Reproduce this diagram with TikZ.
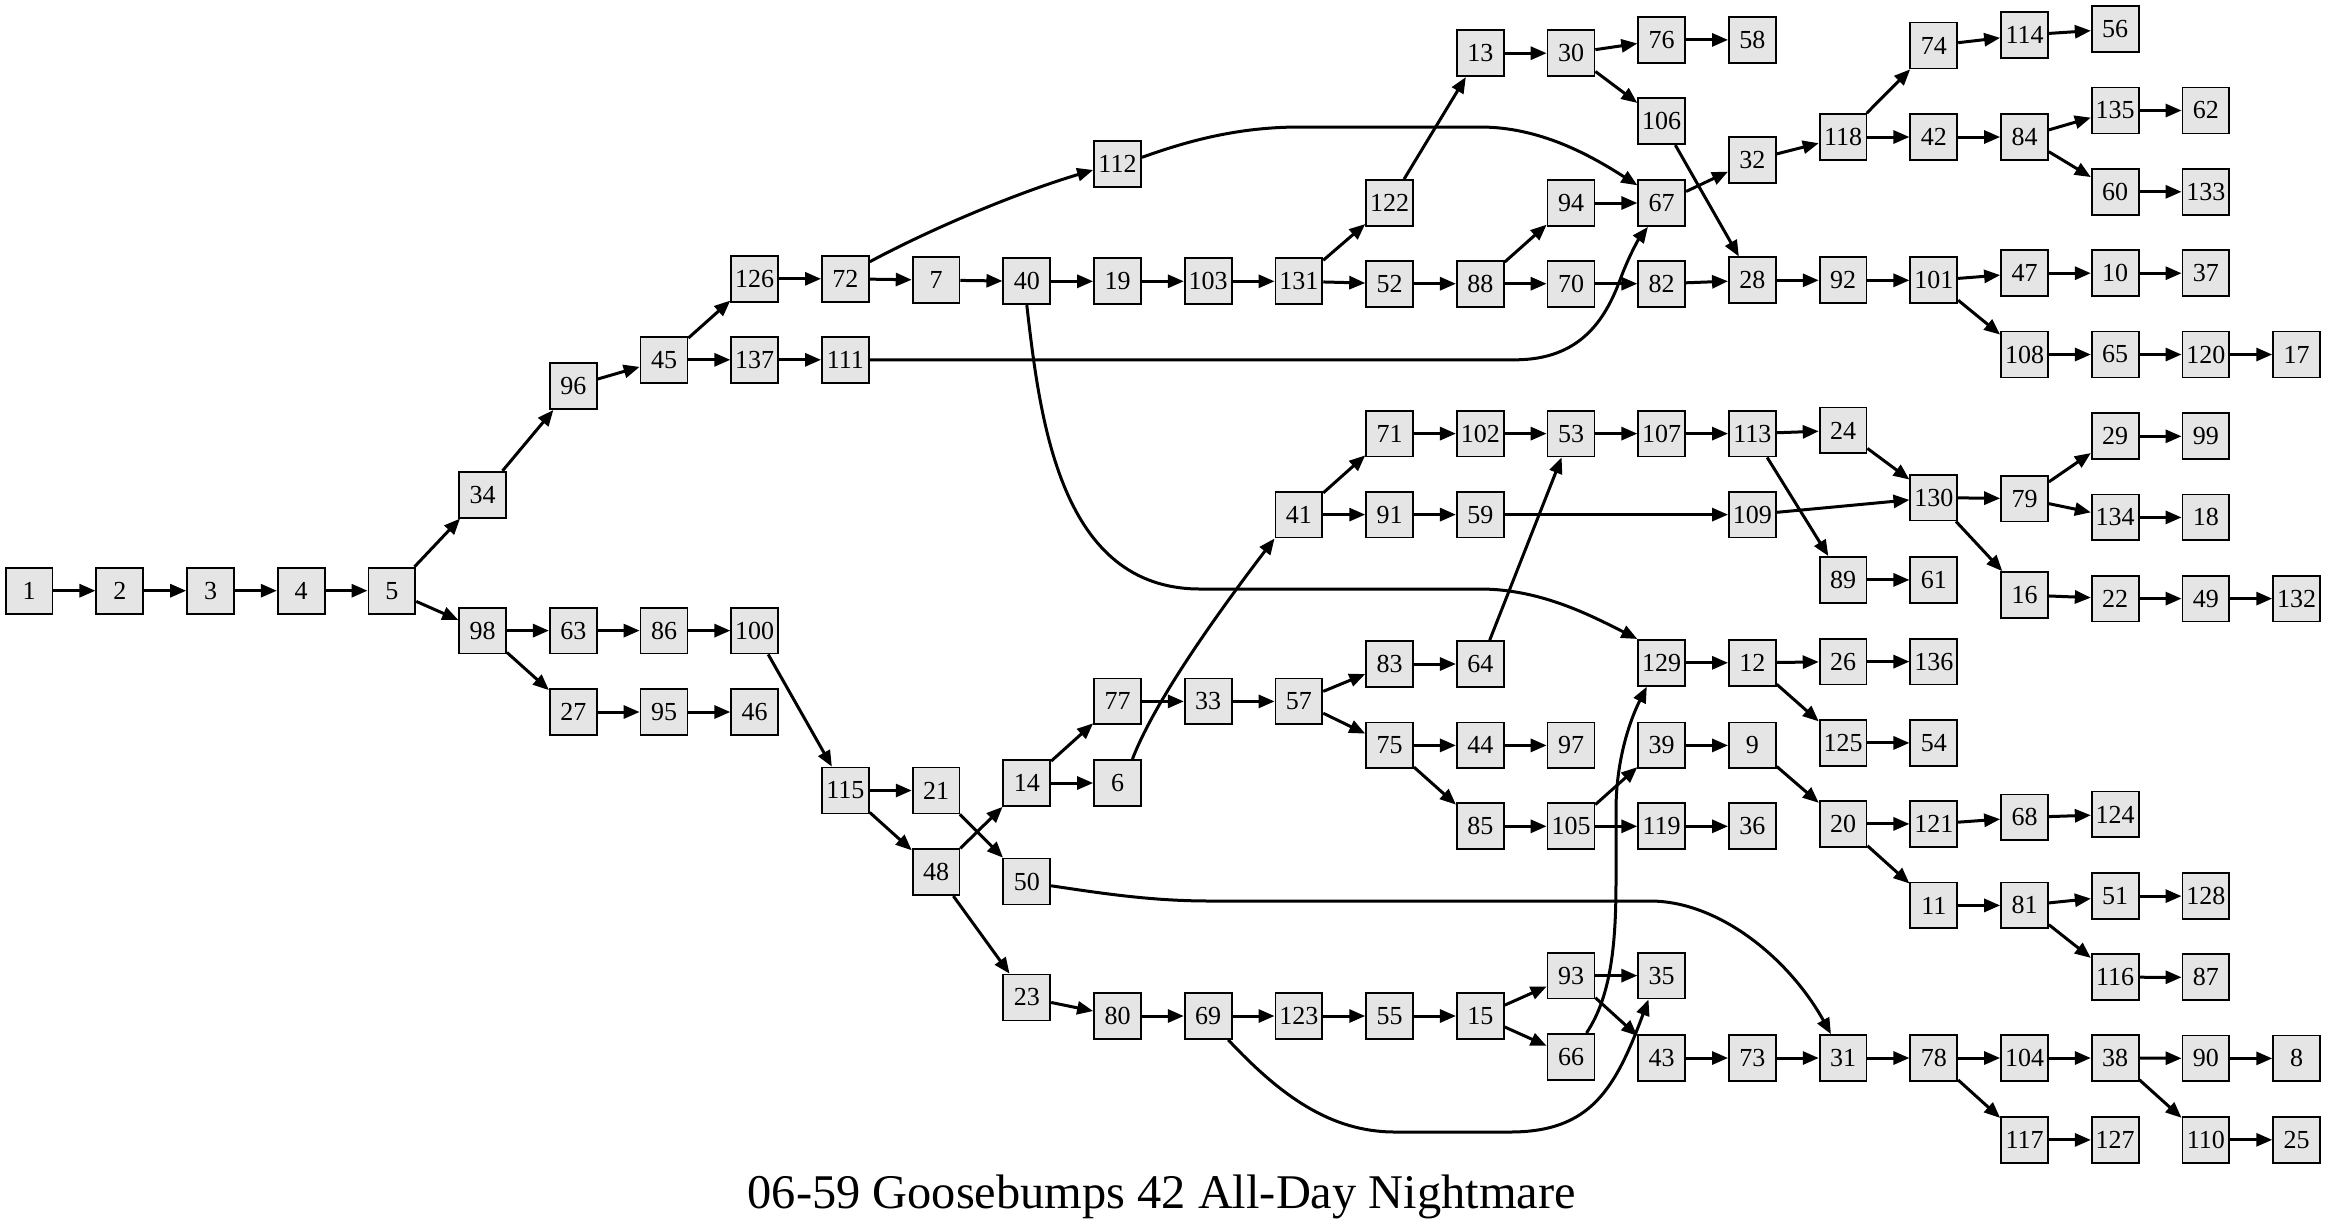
\documentclass[tikz,border=0pt]{standalone}
\usepackage{fontspec}
\setmainfont{Liberation Serif}
\usetikzlibrary{arrows.meta}
\definecolor{boxfill}{HTML}{E5E5E5}
\tikzset{
  box/.style={draw=black, line width=0.9pt, fill=boxfill, rectangle,
    minimum width=23.45pt, minimum height=22.95pt, inner sep=0pt,
    font=\fontsize{13}{15}\selectfont},
  edge/.style={line width=1.5pt, -{Triangle[length=8pt,width=6.5pt]}},
  titletext/.style={anchor=base, font=\fontsize{24.2}{29}\selectfont},
}
\newcommand{\gnode}[3]{\node[box] (n#1) at ({29.1+90.7*#2},#3) {#1};}
\begin{document}
\begin{tikzpicture}[x=0.5pt,y=-0.5pt]
\fill[white] (0,0) rectangle (2325,1228);
\useasboundingbox (0,0) rectangle (2325,1228);
\gnode{1}{0}{590.7}
\gnode{2}{1}{590.7}
\gnode{3}{2}{590.7}
\gnode{4}{3}{590.7}
\gnode{5}{4}{590.7}
\gnode{34}{5}{494.7}
\gnode{98}{5}{630.6}
\gnode{96}{6}{386.1}
\gnode{63}{6}{630.6}
\gnode{27}{6}{712}
\gnode{45}{7}{359.8}
\gnode{86}{7}{630.6}
\gnode{95}{7}{712}
\gnode{126}{8}{278.8}
\gnode{137}{8}{359.8}
\gnode{100}{8}{630.6}
\gnode{46}{8}{712}
\gnode{72}{9}{278.8}
\gnode{111}{9}{359.8}
\gnode{115}{9}{790.5}
\gnode{7}{10}{280.1}
\gnode{21}{10}{790.5}
\gnode{48}{10}{872.2}
\gnode{40}{11}{281.3}
\gnode{14}{11}{783}
\gnode{50}{11}{881.5}
\gnode{23}{11}{997.5}
\gnode{112}{12}{163.9}
\gnode{19}{12}{281.3}
\gnode{77}{12}{701.4}
\gnode{6}{12}{783}
\gnode{80}{12}{1016}
\gnode{103}{13}{281.3}
\gnode{33}{13}{701.4}
\gnode{69}{13}{1016}
\gnode{131}{14}{281.3}
\gnode{41}{14}{514.6}
\gnode{57}{14}{701.4}
\gnode{123}{14}{1016}
\gnode{122}{15}{203}
\gnode{52}{15}{283.7}
\gnode{71}{15}{433.6}
\gnode{91}{15}{514.6}
\gnode{83}{15}{664}
\gnode{75}{15}{745.4}
\gnode{55}{15}{1016}
\gnode{13}{16}{53.2}
\gnode{88}{16}{283.7}
\gnode{102}{16}{433.6}
\gnode{59}{16}{514.6}
\gnode{64}{16}{664}
\gnode{44}{16}{745.4}
\gnode{85}{16}{826.3}
\gnode{15}{16}{1016}
\gnode{30}{17}{53.2}
\gnode{94}{17}{203}
\gnode{70}{17}{283.7}
\gnode{53}{17}{433.6}
\gnode{97}{17}{745.4}
\gnode{105}{17}{826.3}
\gnode{93}{17}{975.6}
\gnode{66}{17}{1056.8}
\gnode{76}{18}{39.9}
\gnode{106}{18}{121.2}
\gnode{67}{18}{203}
\gnode{82}{18}{283.7}
\gnode{107}{18}{433.6}
\gnode{129}{18}{662.8}
\gnode{39}{18}{745.4}
\gnode{119}{18}{826.3}
\gnode{35}{18}{975.6}
\gnode{43}{18}{1058}
\gnode{58}{19}{39.9}
\gnode{32}{19}{160.1}
\gnode{28}{19}{280.3}
\gnode{113}{19}{433.6}
\gnode{109}{19}{514.6}
\gnode{12}{19}{662.8}
\gnode{9}{19}{745.4}
\gnode{36}{19}{826.3}
\gnode{73}{19}{1058}
\gnode{118}{20}{137}
\gnode{92}{20}{280.3}
\gnode{24}{20}{430.4}
\gnode{89}{20}{579.9}
\gnode{26}{20}{661.6}
\gnode{125}{20}{742.9}
\gnode{20}{20}{823.9}
\gnode{31}{20}{1058}
\gnode{74}{21}{45.5}
\gnode{42}{21}{137}
\gnode{101}{21}{280.3}
\gnode{130}{21}{497.6}
\gnode{61}{21}{579.9}
\gnode{136}{21}{661.6}
\gnode{54}{21}{742.9}
\gnode{121}{21}{823.9}
\gnode{11}{21}{905.4}
\gnode{78}{21}{1058}
\gnode{114}{22}{35}
\gnode{84}{22}{137}
\gnode{47}{22}{273.2}
\gnode{108}{22}{354.5}
\gnode{79}{22}{498.6}
\gnode{16}{22}{595}
\gnode{68}{22}{817.4}
\gnode{81}{22}{905.4}
\gnode{104}{22}{1058}
\gnode{117}{22}{1139.9}
\gnode{56}{23}{29.1}
\gnode{135}{23}{110.5}
\gnode{60}{23}{191.8}
\gnode{10}{23}{273.2}
\gnode{65}{23}{354.5}
\gnode{29}{23}{436.3}
\gnode{134}{23}{517.4}
\gnode{22}{23}{598.6}
\gnode{124}{23}{814.4}
\gnode{51}{23}{896.1}
\gnode{116}{23}{977.2}
\gnode{38}{23}{1058}
\gnode{127}{23}{1139.9}
\gnode{62}{24}{110.5}
\gnode{133}{24}{191.8}
\gnode{37}{24}{273.2}
\gnode{120}{24}{354.5}
\gnode{99}{24}{436.3}
\gnode{18}{24}{517.4}
\gnode{49}{24}{598.6}
\gnode{128}{24}{896.1}
\gnode{87}{24}{977.3}
\gnode{90}{24}{1058.4}
\gnode{110}{24}{1139.8}
\gnode{17}{25}{354.5}
\gnode{132}{25}{598.6}
\gnode{8}{25}{1058.4}
\gnode{25}{25}{1139.8}
\foreach \a/\b in {1/2, 2/3, 3/4, 4/5, 5/34, 5/98, 34/96, 96/45, 45/126, 45/137,
  126/72, 137/111, 72/7, 7/40, 40/19, 19/103, 103/131, 131/122, 131/52,
  122/13, 13/30, 30/76, 30/106, 76/58, 106/28, 94/67, 88/94, 88/70, 52/88,
  70/82, 82/28, 67/32, 32/118, 118/74, 118/42, 74/114, 114/56, 42/84, 84/135,
  84/60, 135/62, 60/133, 28/92, 92/101, 101/47, 101/108, 47/10, 10/37,
  108/65, 65/120, 120/17,
  98/63, 98/27, 63/86, 86/100, 27/95, 95/46, 100/115, 115/21, 115/48, 21/50,
  48/14, 48/23, 14/77, 14/6, 77/33, 33/57, 57/83, 57/75, 83/64, 64/53,
  75/44, 75/85, 44/97, 85/105, 41/71, 41/91, 71/102, 102/53, 91/59, 59/109,
  53/107, 107/113, 113/24, 113/89, 24/130, 109/130, 89/61, 130/79, 130/16,
  79/29, 79/134, 29/99, 134/18, 16/22, 22/49, 49/132,
  129/12, 12/26, 12/125, 26/136, 125/54, 105/39, 105/119, 39/9, 119/36,
  9/20, 20/121, 20/11, 121/68, 68/124, 11/81, 81/51, 81/116, 51/128, 116/87,
  23/80, 80/69, 69/123, 123/55, 55/15, 15/93, 15/66, 93/35, 93/43, 43/73,
  73/31, 31/78, 78/104, 78/117, 104/38, 38/90, 38/110, 90/8, 110/25, 117/127}
  \draw[edge] (n\a) -- (n\b);
\draw[edge] (n72.35) .. controls (925,232) and (1010,195) .. (n112.194);
\draw[edge] (n6.58) .. controls (1155,700) and (1220,610) .. (n41.south west);
\draw[edge] (n112.15) .. controls (1190,140) and (1240,127) .. (1300,127) -- (1480,127) .. controls (1540,127) and (1590,155) .. (n67.144);
\draw[edge] (n111.east) -- (1515,359.8) .. controls (1580,359.8) and (1605,320) .. (1620,280) .. controls (1628,258) and (1638,240) .. (n67.-120);
\draw[edge] (n40.south) .. controls (1040,420) and (1060,589) .. (1200,589) -- (1480,589) .. controls (1540,589) and (1590,615) .. (n129.north west);
\draw[edge] (n66.57) .. controls (1612,995) and (1616,940) .. (1616,880) -- (1616,810) .. controls (1616,760) and (1630,720) .. (n129.-122);
\draw[edge] (n50.-10) .. controls (1100,893) and (1150,901) .. (1210,901) -- (1650,901) .. controls (1720,901) and (1790,960) .. (n31.117);
\draw[edge] (n69.-50) .. controls (1280,1095) and (1330,1132) .. (1395,1132) -- (1510,1132) .. controls (1590,1132) and (1615,1090) .. (n35.-119);
\node[titletext] (title) at (1161.7,1208) {06-59 Goosebumps 42 All-Day Nightmare};
\end{tikzpicture}
\end{document}
